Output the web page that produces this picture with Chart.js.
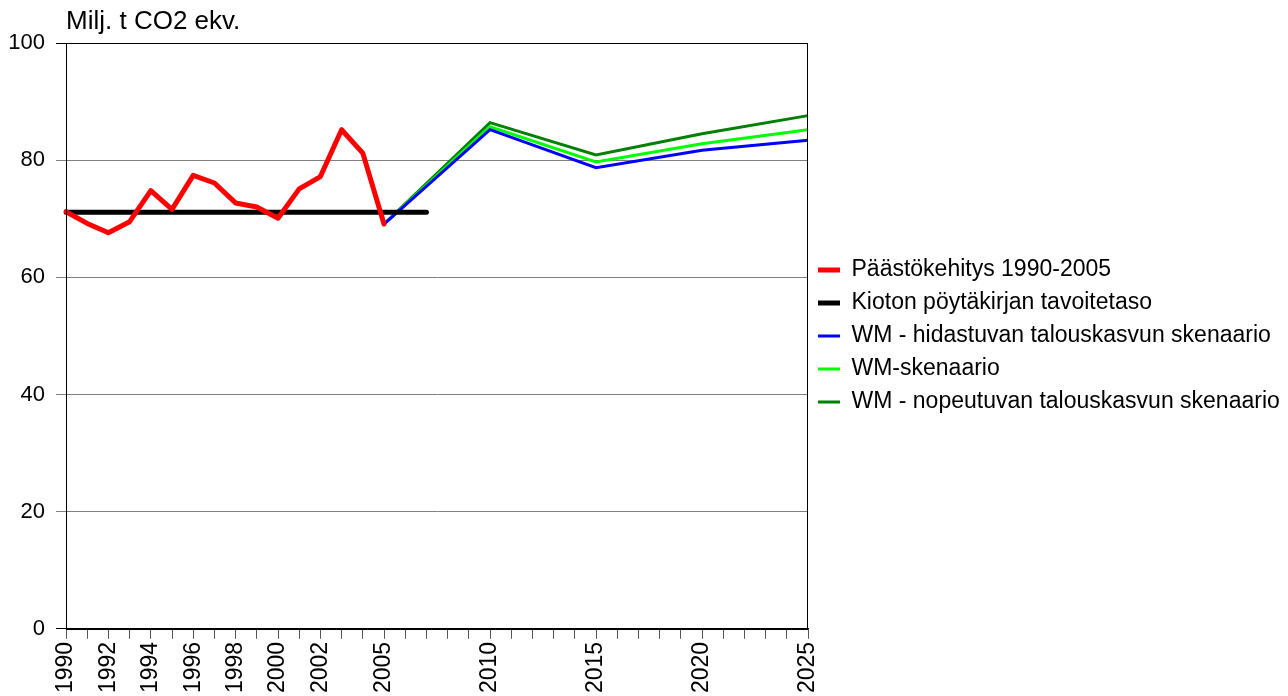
<!DOCTYPE html>
<html lang="fi">
<head>
    <meta charset="UTF-8">
    <title>Päästökehitys ja skenaariot</title>
    <script src="https://cdn.jsdelivr.net/npm/chart.js"></script>
    <style>
        html, body { margin: 0; padding: 0; background: #fff; }
        .chart-box { width: 1288px; height: 696px; }
    </style>
</head>
<body>
    <div class="chart-box"><canvas id="emissionsChart"></canvas></div>

    <script>
        // Vuodet (x-akselin luokat)
        const years = ['1990','1991','1992','1993','1994','1995','1996','1997','1998','1999',
                       '2000','2001','2002','2003','2004','2005','2006','2007','2008','2009',
                       '2010','2011','2012','2013','2014','2015','2016','2017','2018','2019',
                       '2020','2021','2022','2023','2024','2025'];
        // Näytettävät vuosiluvut
        const shownYears = ['1990','1992','1994','1996','1998','2000','2002','2005','2010','2015','2020','2025'];

        // Päästökehitys 1990-2005
        const historyYears = ['1990','1991','1992','1993','1994','1995','1996','1997','1998','1999',
                              '2000','2001','2002','2003','2004','2005'];
        const historyValues = [71.2, 69.2, 67.6, 69.5, 74.8, 71.6, 77.4, 76.1, 72.7, 72.0,
                               70.1, 75.1, 77.2, 85.2, 81.2, 69.1];

        // Kioton tavoitetaso
        const kyotoYears = ['1990', '2007'];
        const kyotoValue = 71.1;

        // Skenaariot
        const scenarioYears = ['2005', '2010', '2015', '2020', '2025'];
        const slowGrowth = [69.1, 85.2, 78.7, 81.7, 83.4];
        const wmScenario = [69.1, 85.7, 79.7, 82.8, 85.2];
        const fastGrowth = [69.1, 86.4, 80.9, 84.5, 87.6];

        const yTicks = [0, 20, 40, 60, 80, 100];

        function pairs(xs, ys) {
            return xs.map((x, i) => ({ x: x, y: ys[i] }));
        }

        Chart.defaults.font.family = '"Liberation Sans", Arial, sans-serif';
        Chart.defaults.font.size = 22;
        Chart.defaults.color = '#000';

        // Otsikko, kehys ja selitteen pystykeskitys piirtoalueen mukaan
        const frame = {
            id: 'frame',
            afterLayout(chart) {
                if (chart.legend) {
                    chart.legend.top = chart.chartArea.top;
                    chart.legend.bottom = chart.chartArea.bottom;
                }
            },
            afterDraw(chart) {
                const { ctx, chartArea: a } = chart;
                ctx.save();
                ctx.strokeStyle = '#000';
                ctx.lineWidth = 1;
                ctx.strokeRect(Math.round(a.left) + 0.5, Math.round(a.top) + 0.5,
                               Math.round(a.right - a.left) - 1, Math.round(a.bottom - a.top));
                ctx.fillStyle = '#000';
                ctx.font = '26px "Liberation Sans", Arial, sans-serif';
                ctx.textBaseline = 'alphabetic';
                ctx.fillText('Milj. t CO2 ekv.', a.left, 29);
                ctx.restore();
            }
        };

        new Chart(document.getElementById('emissionsChart'), {
            type: 'line',
            data: {
                labels: years,
                datasets: [
                    {
                        label: 'Päästökehitys 1990-2005',
                        data: pairs(historyYears, historyValues),
                        borderColor: '#ff0000',
                        backgroundColor: '#ff0000',
                        borderWidth: 5,
                        borderJoinStyle: 'round',
                        borderCapStyle: 'round'
                    },
                    {
                        label: 'Kioton pöytäkirjan tavoitetaso',
                        data: kyotoYears.map(y => ({ x: y, y: kyotoValue })),
                        borderColor: '#000000',
                        backgroundColor: '#000000',
                        borderWidth: 5,
                        borderCapStyle: 'round'
                    },
                    {
                        label: 'WM - hidastuvan talouskasvun skenaario',
                        data: pairs(scenarioYears, slowGrowth),
                        borderColor: '#0000ff',
                        backgroundColor: '#0000ff',
                        borderWidth: 3
                    },
                    {
                        label: 'WM-skenaario',
                        data: pairs(scenarioYears, wmScenario),
                        borderColor: '#00ff00',
                        backgroundColor: '#00ff00',
                        borderWidth: 3
                    },
                    {
                        label: 'WM - nopeutuvan talouskasvun skenaario',
                        data: pairs(scenarioYears, fastGrowth),
                        borderColor: '#008000',
                        backgroundColor: '#008000',
                        borderWidth: 3
                    }
                ]
            },
            options: {
                responsive: true,
                maintainAspectRatio: false,
                animation: false,
                elements: { point: { radius: 0, hoverRadius: 0 }, line: { tension: 0 } },
                layout: { padding: { top: 43, left: 0, right: 0, bottom: 0 } },
                plugins: {
                    tooltip: { enabled: false },
                    legend: {
                        position: 'right',
                        align: 'center',
                        maxWidth: 480,
                        labels: {
                            usePointStyle: true,
                            pointStyle: 'line',
                            pointStyleWidth: 22,
                            boxHeight: 22,
                            padding: 10,
                            color: '#000',
                            font: { size: 23 }
                        }
                    }
                },
                scales: {
                    x: {
                        type: 'category',
                        offset: false,
                        grid: {
                            drawOnChartArea: false,
                            drawTicks: true,
                            tickLength: 10,
                            color: '#555'
                        },
                        border: { display: true, color: '#000', width: 1 },
                        ticks: {
                            autoSkip: false,
                            minRotation: 90,
                            maxRotation: 90,
                            padding: 3,
                            font: { size: 23 },
                            callback: function (value) {
                                const label = this.getLabelForValue(value);
                                return shownYears.includes(label) ? label : '';
                            }
                        }
                    },
                    y: {
                        min: 0,
                        max: 100,
                        afterBuildTicks: (axis) => { axis.ticks = yTicks.map(v => ({ value: v })); },
                        afterFit: (axis) => { axis.width = 66; },
                        grid: {
                            drawTicks: true,
                            tickLength: 10,
                            color: (c) => (c.tick && (c.tick.value === 100 || c.tick.value === 0)) ? '#000' : '#808080'
                        },
                        border: { display: true, color: '#000', width: 1 },
                        ticks: { padding: 11 }
                    }
                }
            },
            plugins: [frame]
        });
    </script>
</body>
</html>
